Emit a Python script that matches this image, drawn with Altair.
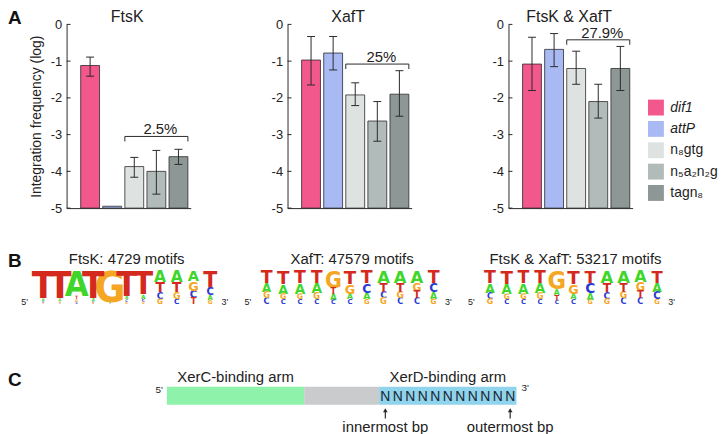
import altair as alt
import pandas as pd

FONT = "Liberation Sans"
NARROW_FONT = "Liberation Sans Narrow, DejaVu Sans Condensed, Liberation Sans"
WIDE_FONT = "DejaVu Sans"
INK = "#2b2b2b"

# ---------------- Panel A data ----------------
categories = ["dif1", "attP", "n₈gtg", "n₅a₂n₂g", "tagn₈"]
bar_colors = ["#f2588b", "#a9b9f3", "#dee3e2", "#b1bbb9", "#8d9795"]
italic_categories = ["dif1", "attP"]
panel_titles = ["FtsK", "XafT", "FtsK & XafT"]
tick_values = [0, -1, -2, -3, -4, -5]

mean_ftsk = [-1.12, -4.95, -3.87, -4.00, -3.60]
hi_ftsk = [-0.89, None, -3.62, -3.43, -3.40]
lo_ftsk = [-1.41, None, -4.16, -4.62, -3.81]

mean_xaft = [-0.97, -0.78, -1.92, -2.63, -1.90]
hi_xaft = [-0.33, -0.33, -1.59, -2.10, -1.26]
lo_xaft = [-1.65, -1.24, -2.21, -3.18, -2.50]

mean_both = [-1.08, -0.68, -1.20, -2.10, -1.20]
hi_both = [-0.35, -0.25, -0.73, -1.63, -0.60]
lo_both = [-1.80, -1.15, -1.63, -2.55, -1.80]

bracket_labels = ["2.5%", "25%", "27.9%"]
bracket_y = [-3.05, -1.08, -0.42]
bracket_from = 2
bracket_to = 4

panel_letters = ["A", "B", "C"]

# ---------------- Panel B data (letter frequencies per position) ----------------
logo_titles = ["FtsK: 4729 motifs", "XafT: 47579 motifs", "FtsK & XafT: 53217 motifs"]
logo_positions = [1, 2, 3, 4, 5, 6, 7, 8, 9, 10, 11]
ftsk_A = [0.08, 0.08, 0.75, 0.09, 0.04, 0.10, 0.13, 0.34, 0.34, 0.32, 0.15]
ftsk_C = [0.06, 0.04, 0.07, 0.06, 0.02, 0.08, 0.10, 0.20, 0.16, 0.22, 0.22]
ftsk_G = [0.04, 0.06, 0.08, 0.05, 0.92, 0.07, 0.07, 0.16, 0.20, 0.28, 0.13]
ftsk_T = [0.82, 0.82, 0.10, 0.80, 0.02, 0.75, 0.70, 0.30, 0.30, 0.18, 0.50]

xaft_A = [0.26, 0.28, 0.30, 0.30, 0.18, 0.17, 0.20, 0.36, 0.36, 0.36, 0.20]
xaft_C = [0.18, 0.15, 0.15, 0.15, 0.14, 0.15, 0.27, 0.20, 0.18, 0.18, 0.26]
xaft_G = [0.18, 0.17, 0.17, 0.18, 0.50, 0.28, 0.15, 0.18, 0.20, 0.24, 0.16]
xaft_T = [0.38, 0.40, 0.38, 0.37, 0.18, 0.40, 0.38, 0.26, 0.26, 0.22, 0.38]

both_A = [0.27, 0.29, 0.30, 0.30, 0.17, 0.17, 0.20, 0.36, 0.36, 0.35, 0.27]
both_C = [0.18, 0.15, 0.15, 0.15, 0.13, 0.15, 0.30, 0.20, 0.18, 0.18, 0.22]
both_G = [0.17, 0.16, 0.17, 0.18, 0.55, 0.28, 0.14, 0.17, 0.20, 0.25, 0.15]
both_T = [0.38, 0.40, 0.38, 0.37, 0.15, 0.40, 0.36, 0.27, 0.26, 0.22, 0.36]

bases = ["A", "C", "G", "T"]
base_colors = ["#3fd62a", "#2b3bd1", "#f5a623", "#d42a1e"]
strand_ends = ["5'", "3'"]

# ---------------- Panel C data ----------------
seg_names = ["XerC-binding arm", "central region", "XerD-binding arm"]
seg_start = [0, 11, 17]
seg_end = [11, 17, 28]
seg_colors = ["#8ff2aa", "#c9cbcc", "#8fd3ec"]
arm_names = ["XerC-binding arm", "XerD-binding arm"]
xerd_bp = [17.5, 18.5, 19.5, 20.5, 21.5, 22.5, 23.5, 24.5, 25.5, 26.5, 27.5]
arrow_bp = [17.5, 27.5]
arrow_labels = ["innermost bp", "outermost bp"]

LETTER_X = -59  # panel letters, relative to the first plot's left edge


def text_chart(label):
    return alt.Chart(pd.DataFrame({"t": [label]}))


def panel_letter(letter, y):
    return text_chart(letter).mark_text(
        fontSize=19, fontWeight="bold", align="left", baseline="alphabetic", color="#111"
    ).encode(x=alt.value(LETTER_X), y=alt.value(y), text="t:N")


def title_text(label, x, y, size):
    return text_chart(label).mark_text(
        fontSize=size, align="center", baseline="alphabetic", color="#222"
    ).encode(x=alt.value(x), y=alt.value(y), text="t:N")


def bar_panel(k, mean, hi, lo):
    df = pd.DataFrame({"cat": categories, "idx": list(range(len(categories))),
                       "mean": mean, "hi": hi, "lo": lo})
    xs = alt.Scale(domain=[-0.84, 4.33], nice=False, zero=False)
    ys = alt.Scale(domain=[-5, 0], nice=False, zero=False)
    yaxis = alt.Axis(
        title="Integration frequency (log)" if k == 0 else None,
        values=tick_values, labelExpr="'' + datum.value", ticks=False, tickSize=0,
        labelPadding=5, grid=False, domainColor=INK, labelFontSize=13,
        labelColor="#222", titleFontSize=14, titleFontWeight="normal",
        titlePadding=7, titleColor="#222",
    )
    xaxis = alt.Axis(title=None, labels=False, ticks=False, grid=False, domainColor=INK)
    X = lambda f: alt.X(f, scale=xs, axis=xaxis)
    Y = lambda f: alt.Y(f, scale=ys, axis=yaxis)

    bars = alt.Chart(df).mark_bar(width=19, stroke=INK, strokeWidth=0.8).encode(
        x=X("idx:Q"),
        y=Y("mean:Q"),
        y2=alt.datum(-5),
        color=alt.Color("cat:N", scale=alt.Scale(domain=categories, range=bar_colors), legend=None),
    )
    eb = alt.Chart(df).transform_filter("isValid(datum.hi)")
    whisk = eb.mark_rule(color=INK, strokeWidth=1).encode(x=X("idx:Q"), y=Y("lo:Q"), y2="hi:Q")
    cap_hi = eb.mark_rule(color=INK, xOffset=-4, x2Offset=4).encode(x=X("idx:Q"), x2="idx:Q", y=Y("hi:Q"))
    cap_lo = eb.mark_rule(color=INK, xOffset=-4, x2Offset=4).encode(x=X("idx:Q"), x2="idx:Q", y=Y("lo:Q"))

    bdf = pd.DataFrame({"a": [bracket_from], "b": [bracket_to], "y": [bracket_y[k]],
                        "label": [bracket_labels[k]]})
    bc = alt.Chart(bdf)
    br = bc.mark_rule(color=INK, xOffset=-9.5, x2Offset=9.5).encode(x=X("a:Q"), x2="b:Q", y=Y("y:Q"))
    leg_l = bc.mark_rule(color=INK, xOffset=-9.5, y2Offset=5).encode(x=X("a:Q"), y=Y("y:Q"), y2="y:Q")
    leg_r = bc.mark_rule(color=INK, xOffset=9.5, y2Offset=5).encode(x=X("b:Q"), y=Y("y:Q"), y2="y:Q")
    blab = bc.transform_calculate(mid="(datum.a + datum.b) / 2").mark_text(
        fontSize=15, dx=4, dy=-2, baseline="alphabetic", color="#222"
    ).encode(x=X("mid:Q"), y=Y("y:Q"), text="label:N")

    tk = alt.Chart(pd.DataFrame({"t": tick_values})).mark_rule(color=INK).encode(
        x=alt.value(0), x2=alt.value(4), y=Y("t:Q"))

    layers = [bars, whisk, cap_hi, cap_lo, br, leg_l, leg_r, blab, tk,
              title_text(panel_titles[k], 61, -2, 16)]
    if k == 0:
        layers.append(panel_letter(panel_letters[0], 0))
    main = alt.layer(*layers)

    if k == 2:
        ldf = pd.DataFrame({"cat": categories})
        ly = alt.Y("cat:N", scale=alt.Scale(domain=categories, range=[73, 180.5], padding=0.5), axis=None)
        sq = alt.Chart(ldf).mark_square(size=256, opacity=1).encode(
            x=alt.value(148.5), y=ly,
            color=alt.Color("cat:N", scale=alt.Scale(domain=categories, range=bar_colors), legend=None))
        it = alt.Chart(ldf).transform_filter(
            alt.FieldOneOfPredicate(field="cat", oneOf=italic_categories)
        ).mark_text(align="left", baseline="middle", fontSize=14, fontStyle="italic", color="#222").encode(
            x=alt.value(163), y=ly, text="cat:N")
        rm = alt.Chart(ldf).transform_filter(
            {"not": alt.FieldOneOfPredicate(field="cat", oneOf=italic_categories)}
        ).mark_text(align="left", baseline="middle", fontSize=14, color="#222").encode(
            x=alt.value(163), y=ly, text="cat:N")
        main = alt.layer(main, sq, it, rm).resolve_scale(y="independent")

    return main.properties(width=125, height=185)


def logo_panel(k, A, C, G, T):
    rows = []
    for letter, vals in zip(bases, [A, C, G, T]):
        for pos, p in zip(logo_positions, vals):
            rows.append({"pos": pos, "letter": letter, "p": p})
    df = pd.DataFrame(rows)
    if k == 0:
        width, xrange = 153, [-32, 153]
    else:
        width, xrange = 185, [0, 185]
    xs = alt.Scale(domain=[0.5, 11.5], range=xrange, nice=False, zero=False)
    ys = alt.Scale(domain=[0, 1], nice=False)
    stacked = alt.Chart(df).transform_stack(
        stack="p", groupby=["pos"], as_=["y0", "y1"],
        sort=[alt.SortField("p", order="ascending")],
    )
    enc = dict(
        x=alt.X("pos:Q", scale=xs, axis=None),
        y=alt.Y("y0:Q", scale=ys, axis=None),
        text="letter:N",
        size=alt.Size("p:Q", scale=alt.Scale(domain=[0, 1], range=[0, 46]), legend=None),
        color=alt.Color("letter:N", scale=alt.Scale(domain=bases, range=base_colors), legend=None),
    )
    tall = stacked.transform_filter("datum.p >= 0.45").mark_text(
        font=NARROW_FONT, fontWeight="bold", baseline="alphabetic", align="center").encode(**enc)
    short = stacked.transform_filter("datum.p < 0.45").mark_text(
        font=WIDE_FONT, fontWeight="bold", baseline="alphabetic", align="center").encode(**enc)
    five = text_chart(strand_ends[0]).mark_text(fontSize=9, align="right", baseline="alphabetic", color="#222").encode(
        x=alt.value(xrange[0] - 7), y=alt.value(35), text="t:N")
    three = text_chart(strand_ends[1]).mark_text(fontSize=9, align="left", baseline="alphabetic", color="#222").encode(
        x=alt.value(xrange[1] + 3), y=alt.value(35), text="t:N")
    title_x = (xrange[0] + xrange[1]) / 2 + (0 if k == 0 else 2)
    layers = [tall, short, five, three, title_text(logo_titles[k], title_x, -7, 15)]
    if k == 0:
        layers.append(panel_letter(panel_letters[1], -4))
    return alt.layer(*layers).properties(width=width, height=34)


def diagram_panel():
    sdf = pd.DataFrame({"seg": seg_names, "start": seg_start, "end": seg_end})
    xs = alt.Scale(domain=[0, 28], range=[101, 453], nice=False, zero=False)
    X = lambda f: alt.X(f, scale=xs, axis=None)
    rect = alt.Chart(sdf).mark_rect().encode(
        x=X("start:Q"), x2="end:Q", y=alt.value(0), y2=alt.value(18),
        color=alt.Color("seg:N", scale=alt.Scale(domain=seg_names, range=seg_colors), legend=None))
    arm = alt.Chart(sdf).transform_filter(
        alt.FieldOneOfPredicate(field="seg", oneOf=arm_names)
    ).transform_calculate(mid="(datum.start + datum.end) / 2").mark_text(
        fontSize=15, baseline="alphabetic", color="#222").encode(x=X("mid:Q"), y=alt.value(-5), text="seg:N")
    ndf = pd.DataFrame({"bp": xerd_bp, "n": ["N"] * len(xerd_bp)})
    ns = alt.Chart(ndf).mark_text(fontSize=14, baseline="middle", color="#1a2630").encode(
        x=X("bp:Q"), y=alt.value(10), text="n:N")
    adf = pd.DataFrame({"bp": arrow_bp, "label": arrow_labels})
    shaft = alt.Chart(adf).mark_rule(color=INK, strokeWidth=1.2).encode(
        x=X("bp:Q"), y=alt.value(23), y2=alt.value(32))
    head = alt.Chart(adf).mark_point(shape="triangle-up", filled=True, size=22, opacity=1, color=INK).encode(
        x=X("bp:Q"), y=alt.value(23.5))
    alab = alt.Chart(adf).mark_text(fontSize=15, baseline="alphabetic", color="#222").encode(
        x=X("bp:Q"), y=alt.value(45), text="label:N")
    five = text_chart(strand_ends[0]).mark_text(fontSize=10, align="right", baseline="middle", color="#222").encode(
        x=alt.value(97), y=alt.value(3), text="t:N")
    three = text_chart(strand_ends[1]).mark_text(fontSize=10, align="left", baseline="middle", color="#222").encode(
        x=alt.value(458), y=alt.value(1), text="t:N")
    return alt.layer(rect, arm, ns, shaft, head, alab, five, three,
                     panel_letter(panel_letters[2], -1)).properties(width=453, height=18)


row_a = alt.hconcat(
    bar_panel(0, mean_ftsk, hi_ftsk, lo_ftsk),
    bar_panel(1, mean_xaft, hi_xaft, lo_xaft),
    bar_panel(2, mean_both, hi_both, lo_both),
    spacing=97.5, bounds="flush",
).resolve_scale(color="independent")

row_b = alt.hconcat(
    logo_panel(0, ftsk_A, ftsk_C, ftsk_G, ftsk_T),
    logo_panel(1, xaft_A, xaft_C, xaft_G, xaft_T),
    logo_panel(2, both_A, both_C, both_G, both_T),
    spacing=40, bounds="flush",
).resolve_scale(color="independent", size="independent")

top = alt.vconcat(row_a, row_b, spacing=37, bounds="full").resolve_scale(color="independent", size="independent")

chart = alt.vconcat(top, diagram_panel(), spacing=60, bounds="full", padding=0).resolve_scale(
    color="independent", size="independent"
).configure(font=FONT).configure_view(strokeWidth=0)

chart.save("out.html", embed_options={"renderer": "svg", "actions": False})
